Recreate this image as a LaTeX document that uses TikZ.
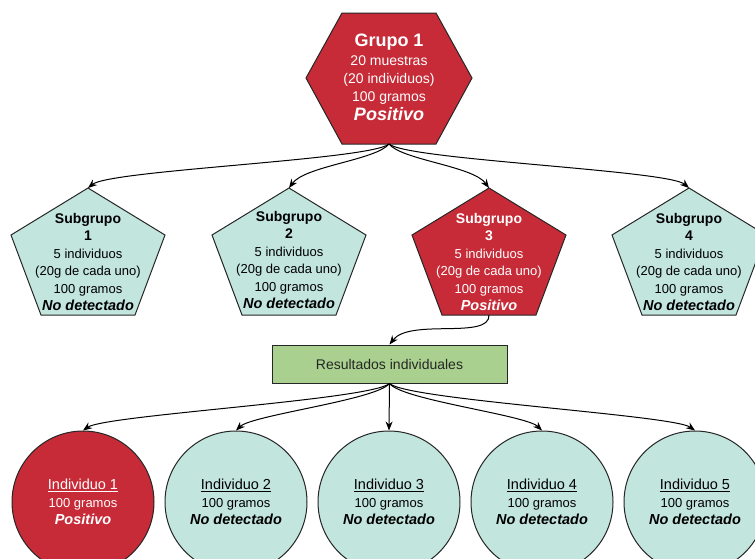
\documentclass[tikz,border=0pt]{standalone}
\usepackage{fontspec}
\setmainfont{Liberation Sans}
\usetikzlibrary{arrows.meta, positioning, calc}

\definecolor{posred}{HTML}{C72B38}
\definecolor{negteal}{HTML}{C2E5DE}
\definecolor{resgreen}{HTML}{A9D08E}

\newcommand{\hd}[1]{{\fontsize{14}{17.5}\selectfont\bfseries #1}}
\newcommand{\res}[1]{{\fontsize{14.5}{17.5}\selectfont\bfseries\itshape #1}}

\tikzset{
  shapeline/.style={draw=black!85, line width=1pt},
  txt/.style={align=center, inner sep=0pt, font=\fontsize{13}{17.5}\selectfont},
  link/.style={line width=1pt, -{Stealth[length=9pt,width=7pt]}},
  indiv/.style={circle, shapeline, minimum size=142pt, inner sep=0pt, align=center,
    font=\fontsize{13}{17.5}\selectfont},
}

\begin{document}
\begin{tikzpicture}[x=1pt,y=-1pt]
  \useasboundingbox (0,0) rectangle (755,558);
  \clip (0,0) rectangle (755,558);

  % group 1 (hexagon)
  \filldraw[shapeline, fill=posred] (342,13) -- (436,13) -- (472,78) -- (436,144) -- (342,144) -- (306,78) -- cycle;
  \coordinate (g1b) at (389,144);
  \node[txt, text=white, font=\fontsize{14}{18}\selectfont] (g1) at (389,77)
    {{\fontsize{18}{20}\selectfont\bfseries Grupo 1}\\[1pt] 20 muestras\\ (20 individuos)\\ 100 gramos\\[1pt]
     {\fontsize{18}{20}\selectfont\bfseries\itshape Positivo}};

  % subgroups (pentagons)
  \filldraw[shapeline, fill=negteal, shift={(88,0)}]  (0,188) -- (77,235) -- (47,315) -- (-47,315) -- (-77,235) -- cycle;
  \filldraw[shapeline, fill=negteal, shift={(289,0)}] (0,188) -- (77,235) -- (47,315) -- (-47,315) -- (-77,235) -- cycle;
  \filldraw[shapeline, fill=posred,  shift={(489,0)}] (0,188) -- (77,235) -- (47,315) -- (-47,315) -- (-77,235) -- cycle;
  \filldraw[shapeline, fill=negteal, shift={(689,0)}] (0,188) -- (77,235) -- (47,315) -- (-47,315) -- (-77,235) -- cycle;
  \coordinate (s1t) at (88,188);
  \coordinate (s2t) at (289,188);
  \coordinate (s3t) at (489,188);
  \coordinate (s4t) at (689,188);
  \coordinate (s3b) at (489,315);

  \node[txt] (s1) at (88,262) {\hd{Subgrupo}\\ \hd{1}\\ 5 individuos\\ (20g de cada uno)\\ 100 gramos\\ \res{No detectado}};
  \node[txt] (s2) at (289,260) {\hd{Subgrupo}\\ \hd{2}\\ 5 individuos\\ (20g de cada uno)\\ 100 gramos\\ \res{No detectado}};
  \node[txt, text=white] (s3) at (489,262) {\hd{Subgrupo}\\ \hd{3}\\ 5 individuos\\ (20g de cada uno)\\ 100 gramos\\ \res{Positivo}};
  \node[txt] (s4) at (689,262) {\hd{Subgrupo}\\ \hd{4}\\ 5 individuos\\ (20g de cada uno)\\ 100 gramos\\ \res{No detectado}};

  % individual results
  \node[shapeline, fill=resgreen, minimum width=235pt, minimum height=38pt, inner sep=0pt,
    font=\fontsize{14}{17}\selectfont, text=black!85] (res) at (389.5,364) {Resultados individuales};

  \node[indiv, fill=posred, text=white] (i1) at (83,502)
    {{\fontsize{14.5}{17.5}\selectfont\underline{Individuo 1}}\\ 100 gramos\\ \res{Positivo}};
  \node[indiv, fill=negteal] (i2) at (236,502)
    {{\fontsize{14.5}{17.5}\selectfont\underline{Individuo 2}}\\ 100 gramos\\ \res{No detectado}};
  \node[indiv, fill=negteal] (i3) at (389,502)
    {{\fontsize{14.5}{17.5}\selectfont\underline{Individuo 3}}\\ 100 gramos\\ \res{No detectado}};
  \node[indiv, fill=negteal] (i4) at (542,502)
    {{\fontsize{14.5}{17.5}\selectfont\underline{Individuo 4}}\\ 100 gramos\\ \res{No detectado}};
  \node[indiv, fill=negteal] (i5) at (695,502)
    {{\fontsize{14.5}{17.5}\selectfont\underline{Individuo 5}}\\ 100 gramos\\ \res{No detectado}};

  % connectors
  \draw[link] (g1b) .. controls (370,160) and (110,170) .. (s1t);
  \draw[link] (g1b) .. controls (376,160) and (305,166) .. (s2t);
  \draw[link] (g1b) .. controls (402,160) and (473,166) .. (s3t);
  \draw[link] (g1b) .. controls (408,160) and (668,170) .. (s4t);
  \draw[link] (s3b) .. controls (490,340) and (410,318) .. (res.north);
  \draw[link] (res.south) .. controls (370,400) and (105,415) .. (i1.north);
  \draw[link] (res.south) .. controls (376,400) and (252,415) .. (i2.north);
  \draw[link] (res.south) -- (i3.north);
  \draw[link] (res.south) .. controls (402,400) and (526,415) .. (i4.north);
  \draw[link] (res.south) .. controls (408,400) and (673,415) .. (i5.north);
\end{tikzpicture}
\end{document}
